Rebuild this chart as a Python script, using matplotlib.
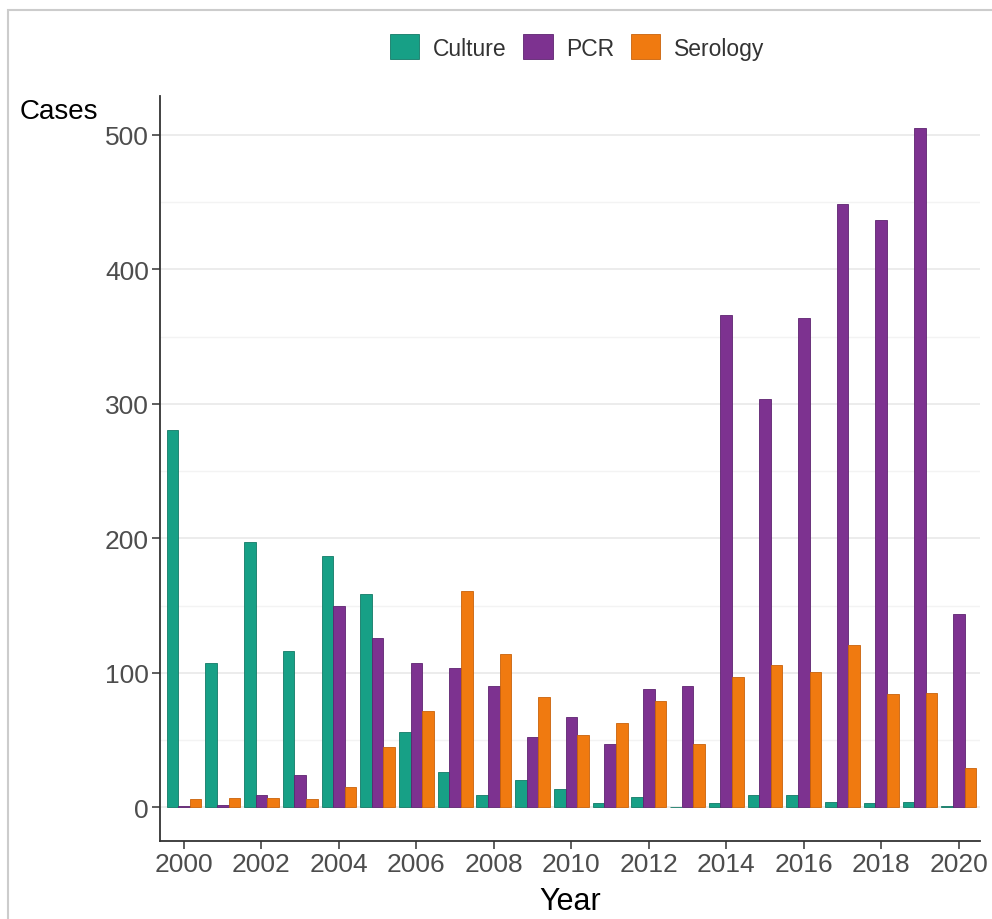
import matplotlib
matplotlib.use('Agg')
from matplotlib import pyplot as plt
from matplotlib.patches import Rectangle
import numpy as np

plt.rcParams['font.family'] = ['Liberation Sans', 'DejaVu Sans']

years = np.arange(2000, 2021)
culture = [281, 107, 197, 116, 187, 159, 56, 26, 9, 20, 14, 3, 8, 0, 3, 9, 9, 4, 3, 4, 1]
pcr = [1, 2, 9, 24, 150, 126, 107, 104, 90, 52, 67, 47, 88, 90, 366, 304, 364, 449, 437, 505, 144]
serology = [6, 7, 7, 6, 15, 45, 72, 161, 114, 82, 54, 63, 79, 47, 97, 106, 101, 121, 84, 85, 29]

series = [('Culture', culture, '#17a086', '#127a66'),
          ('PCR', pcr, '#7d3290', '#5e2470'),
          ('Serology', serology, '#f07a10', '#c9620a')]

fig = plt.figure(figsize=(9.92, 9.2), dpi=100)
ax = fig.add_axes([160 / 992, 1 - 842 / 920, 820 / 992, 745 / 920])

width = 0.3
for i, (name, vals, col, edge) in enumerate(series):
    ax.bar(years + (i - 1) * width, vals, width=width, color=col,
           edgecolor=edge, linewidth=0.6, label=name, zorder=3)

ax.set_xlim(1999.38, 2020.55)
ax.set_ylim(-25, 529)
ax.set_xticks(np.arange(2000, 2021, 2))
ax.set_yticks(np.arange(0, 501, 100))
ax.set_yticks(np.arange(50, 501, 100), minor=True)
ax.grid(axis='y', which='major', color='#ebebeb', linewidth=1.3, zorder=0)
ax.grid(axis='y', which='minor', color='#f3f3f3', linewidth=1.0, zorder=0)
ax.tick_params(axis='y', which='minor', length=0)
ax.tick_params(which='major', direction='out', length=6, width=1.1,
               color='#333333', labelsize=19, labelcolor='#4d4d4d', pad=2)

for side in ['top', 'right']:
    ax.spines[side].set_visible(False)
for side in ['left', 'bottom']:
    ax.spines[side].set_color('#333333')
    ax.spines[side].set_linewidth(1.3)

fig.text(20 / 992, 1 - 112 / 920, 'Cases', ha='left', va='center',
         fontsize=20, color='black')
fig.text(570 / 992, 1 - 917 / 920, 'Year', ha='center', va='bottom',
         fontsize=22, color='black')

fig.legend(loc='center', bbox_to_anchor=(577 / 992, 1 - 48 / 920), ncol=3,
           frameon=False, fontsize=16.5, handlelength=1.3, handleheight=1.3,
           handletextpad=0.6, columnspacing=0.7, labelcolor='#333333')

# light border round the panel
fig.patches.append(Rectangle((8 / 992, -0.05), 1.0, 1 - 11 / 920 + 0.05,
                             transform=fig.transFigure, fill=False,
                             edgecolor='#cccccc', linewidth=1.5))

fig.savefig('out.png', dpi=100)
